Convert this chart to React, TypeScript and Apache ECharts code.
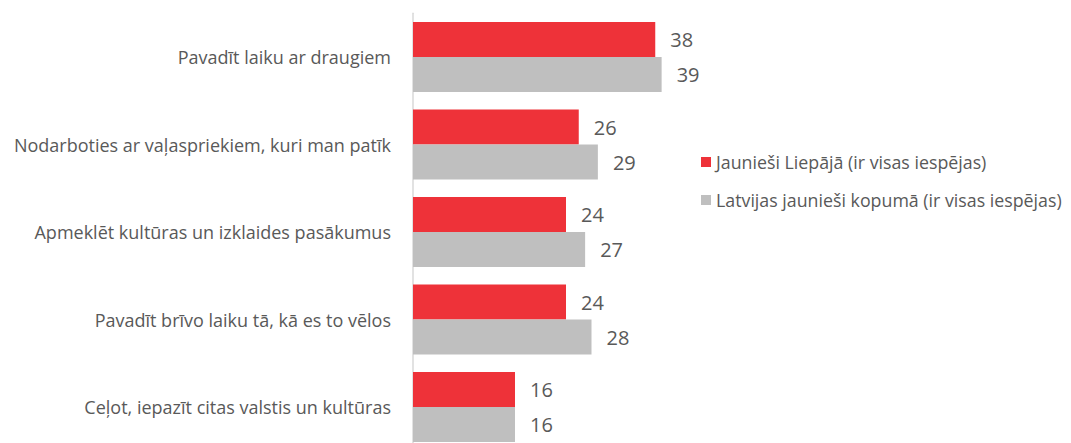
import React, { useEffect, useRef } from "react";
import * as echarts from "echarts";

const categories = [
  "Pavadīt laiku ar draugiem",
  "Nodarboties ar vaļaspriekiem, kuri man patīk",
  "Apmeklēt kultūras un izklaides pasākumus",
  "Pavadīt brīvo laiku tā, kā es to vēlos",
  "Ceļot, iepazīt citas valstis un kultūras",
];
const seriesNames = [
  "Jaunieši Liepājā (ir visas iespējas)",
  "Latvijas jaunieši kopumā (ir visas iespējas)",
];
const liepajaValues = [38, 26, 24, 24, 16];
const latviaValues = [39, 29, 27, 28, 16];

const FONT = "'Open Sans', 'Noto Sans', sans-serif";
const TEXT = "#595959";

export default function App() {
  const ref = useRef<HTMLDivElement>(null);
  useEffect(() => {
    document.body.style.margin = "0";
    const chart = echarts.init(ref.current!, null, { renderer: "svg" });
    const label = {
      show: true,
      position: "right" as const,
      distance: 15,
      color: TEXT,
      fontSize: 20,
      fontFamily: FONT,
    };
    chart.setOption({
      animation: false,
      textStyle: { fontFamily: FONT },
      grid: {
        left: 413,
        top: 13.25,
        width: 255,
        height: 437.5,
        containLabel: false,
        outerBoundsMode: "none",
      },
      legend: {
        orient: "vertical",
        left: 696,
        top: 147,
        itemWidth: 10,
        itemHeight: 10,
        itemGap: 18,
        icon: "rect",
        textStyle: { color: TEXT, fontSize: 17.8, fontFamily: FONT, lineHeight: 20, padding: [0, 0, 0, 0] },
        data: seriesNames,
      },
      xAxis: {
        type: "value",
        min: 0,
        max: 40,
        show: false,
      },
      yAxis: {
        type: "category",
        inverse: true,
        data: categories,
        axisLine: { show: true, lineStyle: { color: "#D9D9D9", width: 1.5 } },
        axisTick: { show: false },
        axisLabel: { color: TEXT, fontSize: 18, fontFamily: FONT, margin: 22 },
      },
      series: [
        {
          name: seriesNames[0],
          type: "bar",
          data: liepajaValues,
          barWidth: 35,
          barGap: "0%",
          barCategoryGap: "20%",
          itemStyle: { color: "#EE3239" },
          label,
        },
        {
          name: seriesNames[1],
          type: "bar",
          data: latviaValues,
          barWidth: 35,
          barGap: "0%",
          itemStyle: { color: "#BFBFBF" },
          label,
        },
      ],
    });
    return () => chart.dispose();
  }, []);
  return <div ref={ref} style={{ width: 1071, height: 443 }} />;
}
